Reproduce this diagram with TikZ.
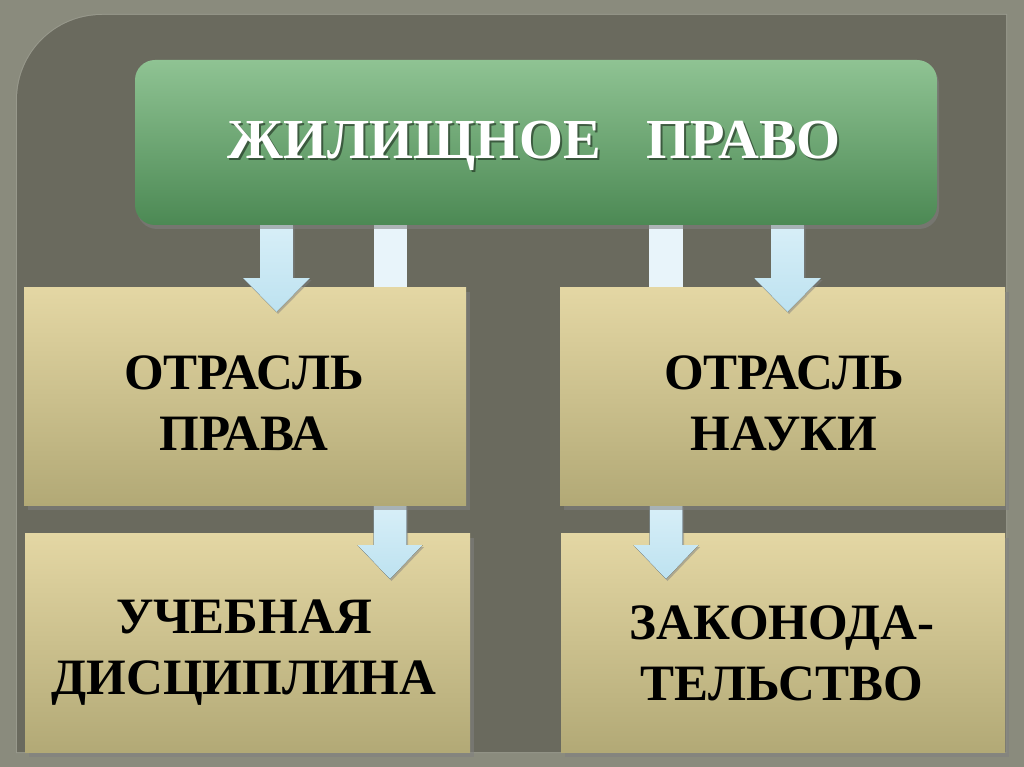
\documentclass[tikz,border=0pt]{standalone}
\usepackage{fontspec}
\setmainfont{Liberation Serif}
\usetikzlibrary{shadows}
\definecolor{outerbg}{HTML}{8A8B7D}
\definecolor{panelbg}{HTML}{6A6A5E}
\definecolor{greentop}{HTML}{8FC393}
\definecolor{greenbot}{HTML}{4C8954}
\definecolor{tantop}{HTML}{E4D7A4}
\definecolor{tanbot}{HTML}{B2A976}
\definecolor{arrtop}{HTML}{D8EFF8}
\definecolor{arrbot}{HTML}{BDE2F0}
\definecolor{barcol}{HTML}{E8F4FA}
\tikzset{
  titlebox/.style={rounded corners=20pt, top color=greentop, bottom color=greenbot,
    minimum width=802pt, minimum height=165pt, inner sep=0pt,
    drop shadow={shadow xshift=2pt, shadow yshift=-4pt, opacity=0.55}},
  tanbox/.style={top color=tantop, bottom color=tanbot, inner sep=0pt,
    drop shadow={shadow xshift=4pt, shadow yshift=-5pt, opacity=0.55}},
  boxtext/.style={align=center, font=\fontsize{51}{61}\selectfont\bfseries, text=black},
  titlefont/.style={font=\fontsize{56.5}{66}\selectfont\bfseries},
  blockarrow/.style={top color=arrtop, bottom color=arrbot,
    drop shadow={shadow xshift=1.5pt, shadow yshift=-2pt, opacity=0.5}},
  barstyle/.style={fill=barcol}
}
\newcommand{\dnarrow}[5]{% cx, ytop, yhead, ytip, headhalf
  \fill[blockarrow] ({#1-16.5},#2) -- ({#1+16.5},#2) -- ({#1+16.5},#3) -- ({#1+#5},#3)
    -- (#1,#4) -- ({#1-#5},#3) -- ({#1-16.5},#3) -- cycle;}
\begin{document}
\begin{tikzpicture}[x=1pt,y=-1pt]
\useasboundingbox (0,0) rectangle (1024,767);
\fill[outerbg] (0,0) rectangle (1024,767);
% panel with rounded top-left corner
\fill[white, opacity=0.12] (16,753) [rounded corners=86pt] -- (16,14) [sharp corners] -- (1007,14) -- (1007,753) -- cycle;
\fill[panelbg] (17,752) [rounded corners=85pt] -- (17,15) [sharp corners] -- (1006,15) -- (1006,752) -- cycle;

% bottom boxes
\node[tanbox, minimum width=445pt, minimum height=219pt] (uch) at (247.5,642.5) {};
\node[tanbox, minimum width=444pt, minimum height=219pt] (zak) at (783,642.5) {};
% arrows to bottom boxes
\dnarrow{390}{505}{545}{579}{32.5}
\dnarrow{666}{505}{545}{579}{32.5}
% top boxes
\node[tanbox, minimum width=442pt, minimum height=218pt] (otp) at (245,396) {};
\node[tanbox, minimum width=445pt, minimum height=218pt] (otn) at (782.5,396) {};
% bars and arrows under title
\fill[barstyle] (374,224) rectangle (407,287);
\fill[barstyle] (649,224) rectangle (683,287);
\dnarrow{276.5}{224}{278}{312}{33.5}
\dnarrow{787.5}{224}{278}{312}{33.5}
% title
\node[titlebox] (title) at (536,142.5) {};
\node[titlefont, text=black, opacity=0.45] at (536,147.5) {ЖИЛИЩНОЕ\hspace{46pt}ПРАВО};
\node[titlefont, text=white] (titletext) at (534,145.5) {ЖИЛИЩНОЕ\hspace{46pt}ПРАВО};

% texts
\node[boxtext] (t1) at (244,403) {ОТРАСЛЬ\\ПРАВА};
\node[boxtext] (t2) at (784,403) {ОТРАСЛЬ\\НАУКИ};
\node[boxtext] (t3) at (244,653) {УЧЕБНАЯ\\ДИСЦИПЛИНА};
\node[boxtext] (t4) at (782,653) {ЗАКОНОДА-\\ТЕЛЬСТВО};
\end{tikzpicture}
\end{document}
